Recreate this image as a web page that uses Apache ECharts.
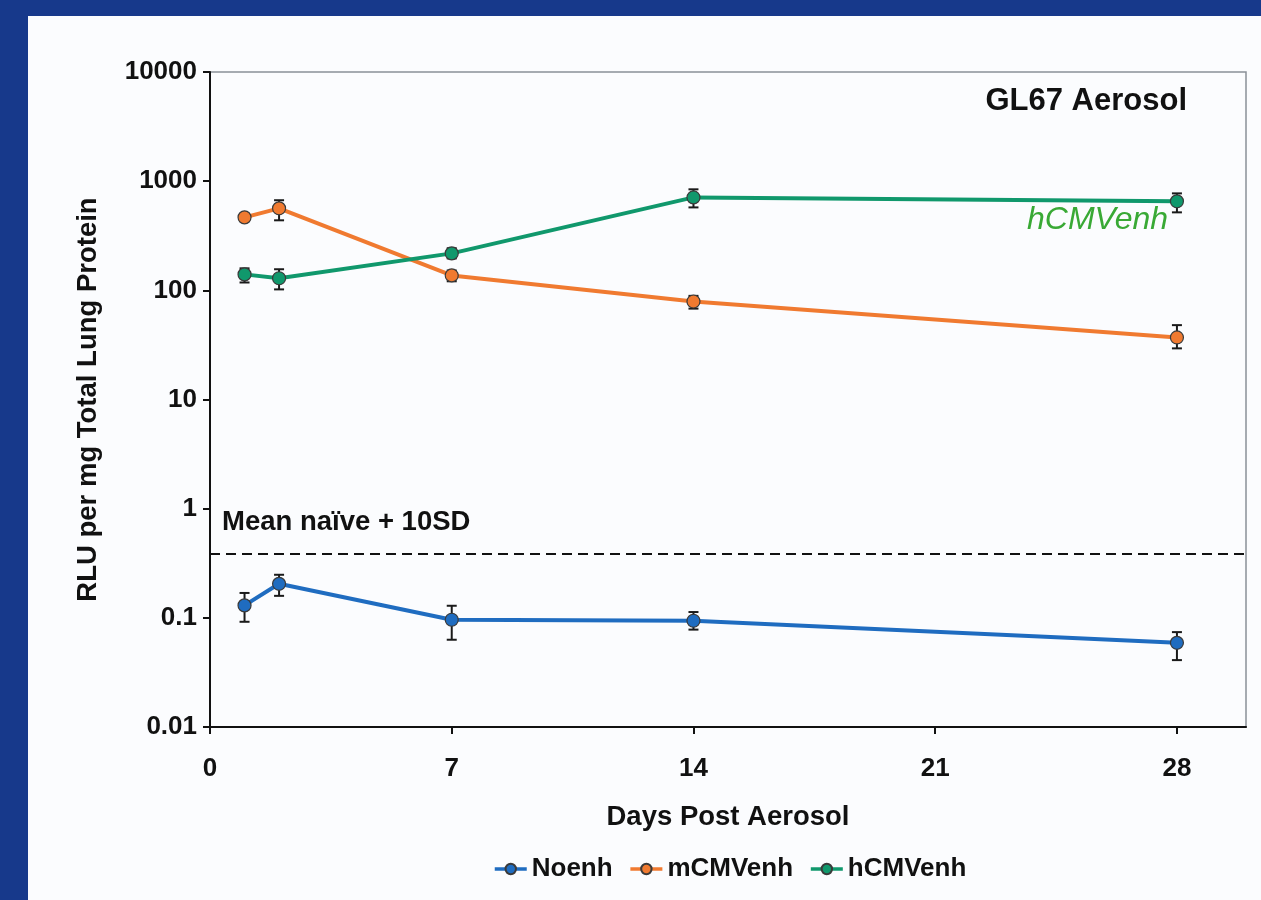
<!DOCTYPE html>
<html>
<head>
<meta charset="utf-8">
<script src="https://cdn.jsdelivr.net/npm/echarts@6/dist/echarts.min.js"></script>
<style>
html,body{margin:0;padding:0;background:#17398b;width:1261px;height:900px;overflow:hidden;}
#chart{position:absolute;left:28px;top:16px;width:1233px;height:884px;background:#fbfcfe;}
</style>
</head>
<body>
<div id="chart"></div>
<script>
const days = [1, 2, 7, 14, 28];
const xTicks = [0, 7, 14, 21, 28];
const yTicks = [0.01, 0.1, 1, 10, 100, 1000, 10000];
const seriesNames = ['Noenh', 'mCMVenh', 'hCMVenh'];
const noenh = [0.13, 0.205, 0.096, 0.094, 0.059];
const noenhLow = [0.092, 0.159, 0.063, 0.078, 0.041];
const noenhHigh = [0.169, 0.248, 0.129, 0.113, 0.074];
const mcmv = [466, 564, 137, 79, 37];
const mcmvLow = [466, 438, 121, 68, 29.4];
const mcmvHigh = [466, 669, 152, 89, 48];
const hcmv = [140, 129, 218, 710, 654];
const hcmvLow = [118, 102, 196, 575, 518];
const hcmvHigh = [159, 156, 243, 842, 773];
const thresholdValue = 0.39;
const thresholdLabel = 'Mean naïve + 10SD';
const chartTitle = 'GL67 Aerosol';
const curveLabel = 'hCMVenh';
const xName = 'Days Post Aerosol';
const yName = 'RLU per mg Total Lung Protein';

const colors = ['#1f6cc0', '#f07a30', '#10986c'];
const FONT = '"Liberation Sans", Arial, sans-serif';

function pairs(vals) { return days.map((d, i) => [d, vals[i]]); }
function errData(lo, hi) { return days.map((d, i) => [d, lo[i], hi[i]]); }

function errSeries(lo, hi) {
  return {
    type: 'custom',
    z: 1,
    silent: true,
    data: errData(lo, hi),
    renderItem: function (params, api) {
      const x = api.value(0);
      const p1 = api.coord([x, api.value(1)]);
      const p2 = api.coord([x, api.value(2)]);
      const w = 5;
      const st = { stroke: '#1a1a1a', lineWidth: 2 };
      return {
        type: 'group',
        children: [
          { type: 'line', shape: { x1: p1[0], y1: p1[1], x2: p2[0], y2: p2[1] }, style: st },
          { type: 'line', shape: { x1: p1[0] - w, y1: p1[1], x2: p1[0] + w, y2: p1[1] }, style: st },
          { type: 'line', shape: { x1: p2[0] - w, y1: p2[1], x2: p2[0] + w, y2: p2[1] }, style: st }
        ]
      };
    }
  };
}

function lineSeries(name, vals, color, extra) {
  return Object.assign({
    name: name,
    type: 'line',
    z: 3,
    data: pairs(vals),
    symbol: 'circle',
    symbolSize: 13,
    lineStyle: { color: color, width: 4 },
    itemStyle: { color: color, borderColor: '#3a3a3a', borderWidth: 1.2 },
    emphasis: { disabled: true }
  }, extra || {});
}

const chart = echarts.init(document.getElementById('chart'));
chart.setOption({
  animation: false,
  color: colors,
  grid: {
    left: 182, right: 15, top: 56, bottom: 173,
    show: true, borderColor: '#8a9098', borderWidth: 1.5
  },
  xAxis: {
    type: 'value',
    min: 0, max: 30, interval: 7,
    name: xName,
    nameLocation: 'middle',
    nameGap: 76,
    nameTextStyle: { fontFamily: FONT, fontWeight: 'bold', fontSize: 27.5, color: '#111' },
    axisLine: { show: true, lineStyle: { color: '#111', width: 2 } },
    axisTick: { show: true, length: 7, lineStyle: { color: '#111', width: 2 },
      customValues: xTicks },
    axisLabel: { fontFamily: FONT, fontWeight: 'bold', fontSize: 26, color: '#111', margin: 29,
      customValues: xTicks },
    splitLine: { show: false }
  },
  yAxis: {
    type: 'log',
    logBase: 10,
    min: yTicks[0], max: yTicks[yTicks.length - 1],
    name: yName,
    nameLocation: 'middle',
    nameGap: 108,
    nameRotate: 90,
    nameTextStyle: { fontFamily: FONT, fontWeight: 'bold', fontSize: 27.5, color: '#111' },
    axisLine: { show: true, lineStyle: { color: '#111', width: 2 } },
    axisTick: { show: true, length: 7, lineStyle: { color: '#111', width: 2 } },
    axisLabel: { fontFamily: FONT, fontWeight: 'bold', fontSize: 26, color: '#111', margin: 13,
      formatter: function (v) { return String(+v.toPrecision(3)); } },
    minorTick: { show: false },
    splitLine: { show: false }
  },
  legend: {
    data: seriesNames,
    top: 835,
    left: 460,
    itemWidth: 32,
    itemHeight: 13,
    itemGap: 16,
    lineStyle: { width: 3.5 },
    textStyle: { fontFamily: FONT, fontWeight: 'bold', fontSize: 26, color: '#111' }
  },
  graphic: [
    { type: 'text', right: 74, top: 70,
      style: { text: chartTitle, font: 'bold 31px ' + FONT, fill: '#111' } },
    { type: 'text', left: 999, top: 188,
      style: { text: curveLabel, font: 'italic 32px ' + FONT, fill: '#39a935' } },
    { type: 'text', left: 194, top: 492,
      style: { text: thresholdLabel, font: 'bold 27.5px ' + FONT, fill: '#111' } }
  ],
  series: [
    errSeries(noenhLow, noenhHigh),
    errSeries(mcmvLow, mcmvHigh),
    errSeries(hcmvLow, hcmvHigh),
    lineSeries(seriesNames[0], noenh, colors[0], {
      markLine: {
        silent: true,
        symbol: ['none', 'none'],
        label: { show: false },
        lineStyle: { color: '#111', type: [10, 6], width: 2 },
        data: [{ yAxis: thresholdValue }]
      }
    }),
    lineSeries(seriesNames[1], mcmv, colors[1]),
    lineSeries(seriesNames[2], hcmv, colors[2])
  ]
});
</script>
</body>
</html>
